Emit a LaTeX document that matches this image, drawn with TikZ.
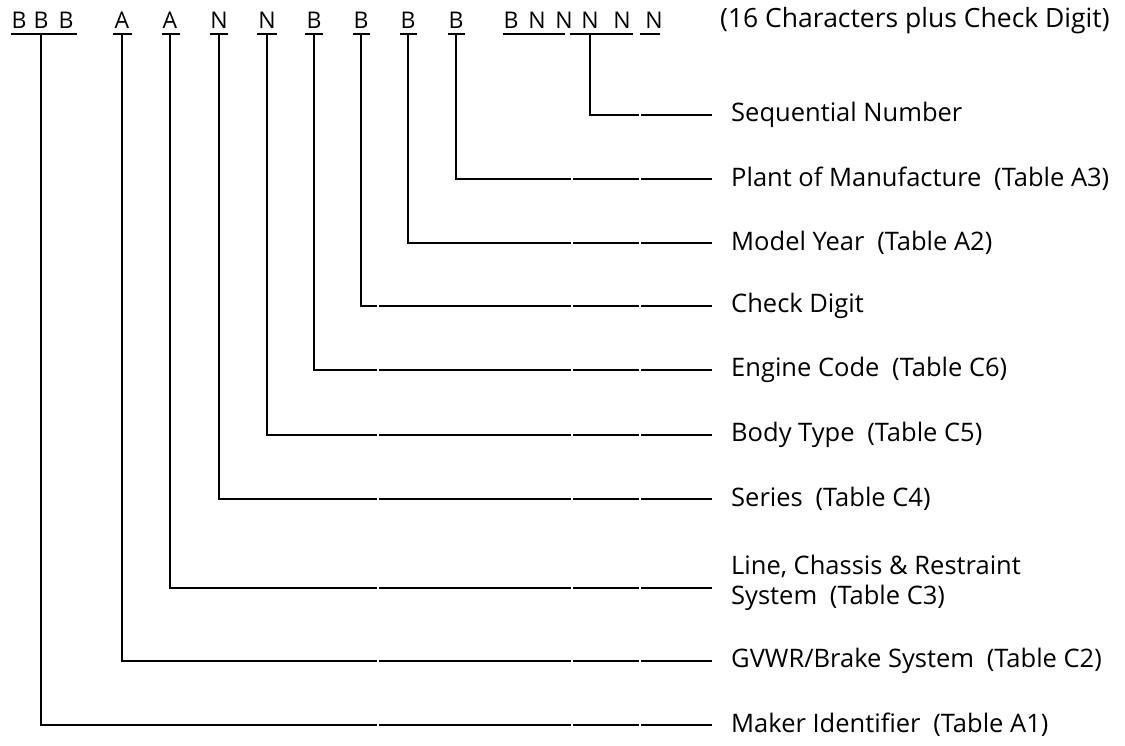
\documentclass[tikz,border=0pt]{standalone}
\usepackage{fontspec}
\setmainfont{Open Sans}
\begin{document}
\begin{tikzpicture}[x=1pt,y=-1pt,
  ch/.style={anchor=base, inner sep=0pt, font=\fontsize{23}{26}\selectfont},
  lab/.style={anchor=west, inner sep=0pt, font=\fontsize{25.5}{30}\selectfont, align=left},
  conn/.style={line width=1.8pt, line join=miter},
  ul/.style={line width=1.8pt}]
\useasboundingbox (0,0) rectangle (1125,745);
% top characters
\node[ch] (c1) at (19,28) {B};
\node[ch] (c2) at (41,28) {B};
\node[ch] (c3) at (66,28) {B};
\node[ch] (c4) at (122,28) {A};
\node[ch] (c5) at (170,28) {A};
\node[ch] (c6) at (219,28) {N};
\node[ch] (c7) at (267,28) {N};
\node[ch] (c8) at (314,28) {B};
\node[ch] (c9) at (361,28) {B};
\node[ch] (c10) at (408,28) {B};
\node[ch] (c11) at (456,28) {B};
\node[ch] (c12) at (511,28) {B};
\node[ch] (c13) at (537,28) {N};
\node[ch] (c14) at (564,28) {N};
\node[ch] (c15) at (590,28) {N};
\node[ch] (c16) at (622,28) {N};
\node[ch] (c17) at (654,28) {N};
\node[lab, font=\fontsize{26.5}{30}\selectfont] (title) at (720,21) {(16 Characters plus Check Digit)};
% underlines
\draw[ul] (11,34) -- (77,34);
\draw[ul] (113,34) -- (132,34);
\draw[ul] (162,34) -- (180,34);
\draw[ul] (210,34) -- (228,34);
\draw[ul] (257,34) -- (277,34);
\draw[ul] (305,34) -- (323,34);
\draw[ul] (353,34) -- (370,34);
\draw[ul] (400,34) -- (417,34);
\draw[ul] (448,34) -- (465,34);
\draw[ul] (503,34) -- (565,34);
\draw[ul] (570,34) -- (633,34);
\draw[ul] (640,34) -- (660,34);
% labels and line ends
\node[lab] (l1) at (731,115) {Sequential Number};
\node[lab] (l2) at (731,179) {Plant of Manufacture\hspace{0.5em}(Table A3)};
\node[lab] (l3) at (731,243) {Model Year\hspace{0.5em}(Table A2)};
\node[lab] (l4) at (731,306) {Check Digit};
\node[lab] (l5) at (731,370) {Engine Code\hspace{0.5em}(Table C6)};
\node[lab] (l6) at (731,435) {Body Type\hspace{0.5em}(Table C5)};
\node[lab] (l7) at (731,499) {Series\hspace{0.5em}(Table C4)};
\node[lab] (l8) at (731,583) {Line, Chassis \& Restraint\\System\hspace{0.5em}(Table C3)};
\node[lab] (l9) at (731,661) {GVWR/Brake System\hspace{0.5em}(Table C2)};
\node[lab] (l10) at (731,725) {Maker Identifier\hspace{0.5em}(Table A1)};
\coordinate (e1) at (712,115);
\coordinate (e2) at (712,179);
\coordinate (e3) at (712,243);
\coordinate (e4) at (712,306);
\coordinate (e5) at (712,370);
\coordinate (e6) at (712,435);
\coordinate (e7) at (712,499);
\coordinate (e8) at (712,588);
\coordinate (e9) at (712,661);
\coordinate (e10) at (712,725);
% connectors
\draw[conn] ([yshift=-6pt]c15.base) |- (e1);
\draw[conn] ([yshift=-6pt]c11.base) |- (e2);
\draw[conn] ([yshift=-6pt]c10.base) |- (e3);
\draw[conn] ([yshift=-6pt]c9.base) |- (e4);
\draw[conn] ([yshift=-6pt]c8.base) |- (e5);
\draw[conn] ([yshift=-6pt]c7.base) |- (e6);
\draw[conn] ([yshift=-6pt]c6.base) |- (e7);
\draw[conn] ([yshift=-6pt]c5.base) |- (e8);
\draw[conn] ([yshift=-6pt]c4.base) |- (e9);
\draw[conn] ([yshift=-6pt]c2.base) |- (e10);
% small breaks in the horizontal lines
\foreach \g/\y in {640/115, 572/179, 640/179, 572/243, 640/243,
  378/306,572/306,640/306, 378/370,572/370,640/370, 378/435,572/435,640/435,
  378/499,572/499,640/499, 378/588,572/588,640/588, 378/661,572/661,640/661,
  378/725,572/725,640/725}
  \fill[white] ({\g-1.2},{\y-3}) rectangle ({\g+1.2},{\y+3});
\end{tikzpicture}
\end{document}
